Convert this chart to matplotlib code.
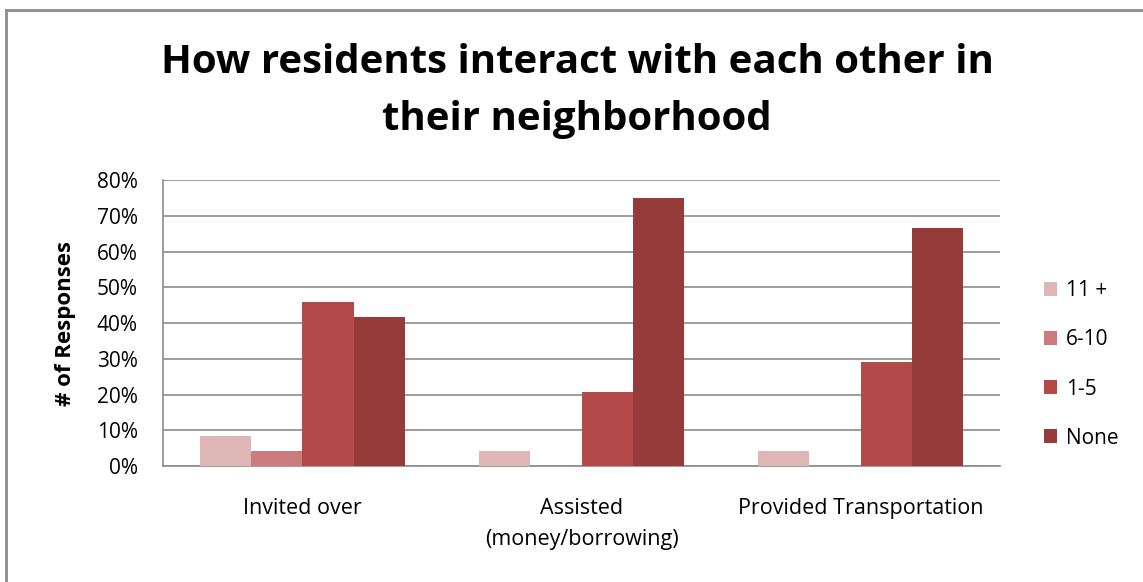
import numpy as np
import matplotlib.pyplot as plt
from matplotlib.lines import Line2D
from matplotlib.ticker import PercentFormatter

plt.rcParams['font.family'] = ['Open Sans', 'DejaVu Sans']

categories = ["Invited over", "Assisted\n(money/borrowing)", "Provided Transportation"]
series = ["11 +", "6-10", "1-5", "None"]
values = {
    "11 +": [8.3, 4.2, 4.2],
    "6-10": [4.2, 0.0, 0.0],
    "1-5": [45.8, 20.8, 29.2],
    "None": [41.7, 75.0, 66.7],
}
colors = ["#DFB6B6", "#C97C7B", "#B34A49", "#953C3B"]

fig = plt.figure(figsize=(11.43, 5.82), dpi=100)
ax = fig.add_axes([0.1426, 0.1993, 0.7323, 0.4914])

x = np.arange(len(categories))
width = 0.183
for i, (name, color) in enumerate(zip(series, colors)):
    ax.bar(x + (i - 1.5) * width, values[name], width, color=color, label=name, zorder=3)

ax.set_xlim(-0.5, 2.5)
ax.set_ylim(0, 80)
ax.set_yticks(range(0, 81, 10))
ax.yaxis.set_major_formatter(PercentFormatter(decimals=0))
ax.yaxis.grid(True, color="#8C8C8C", linewidth=1.2, zorder=0)
ax.set_xticks(x)
ax.set_xticklabels(categories, fontsize=15.5, linespacing=1.6)
ax.tick_params(axis="y", labelsize=15, length=0, pad=18)
ax.tick_params(axis="x", length=0, pad=23)
for side in ["top", "right"]:
    ax.spines[side].set_visible(False)
ax.spines["left"].set_color("#8C8C8C")
ax.spines["bottom"].set_color("#8C8C8C")
ax.spines["left"].set_linewidth(1.2)
ax.spines["bottom"].set_linewidth(1.2)

ax.set_ylabel("# of Responses", fontsize=16, fontweight="bold", labelpad=15)

fig.text(0.505, 0.843, "How residents interact with each other in\ntheir neighborhood",
         ha="center", va="center", fontsize=29, fontweight="bold", linespacing=1.6)

ax.legend(loc="center left", bbox_to_anchor=(1.03, 0.355), frameon=False, fontsize=15,
          handlelength=0.65, handleheight=0.65, handletextpad=0.4, labelspacing=1.35)

# chart frame
fig.add_artist(Line2D([0.0052, 0.0052], [0, 0.9828], color="#8C8C8C", linewidth=2))
fig.add_artist(Line2D([0.0052, 1], [0.9828, 0.9828], color="#8C8C8C", linewidth=2))

fig.savefig("out.png", dpi=100)
